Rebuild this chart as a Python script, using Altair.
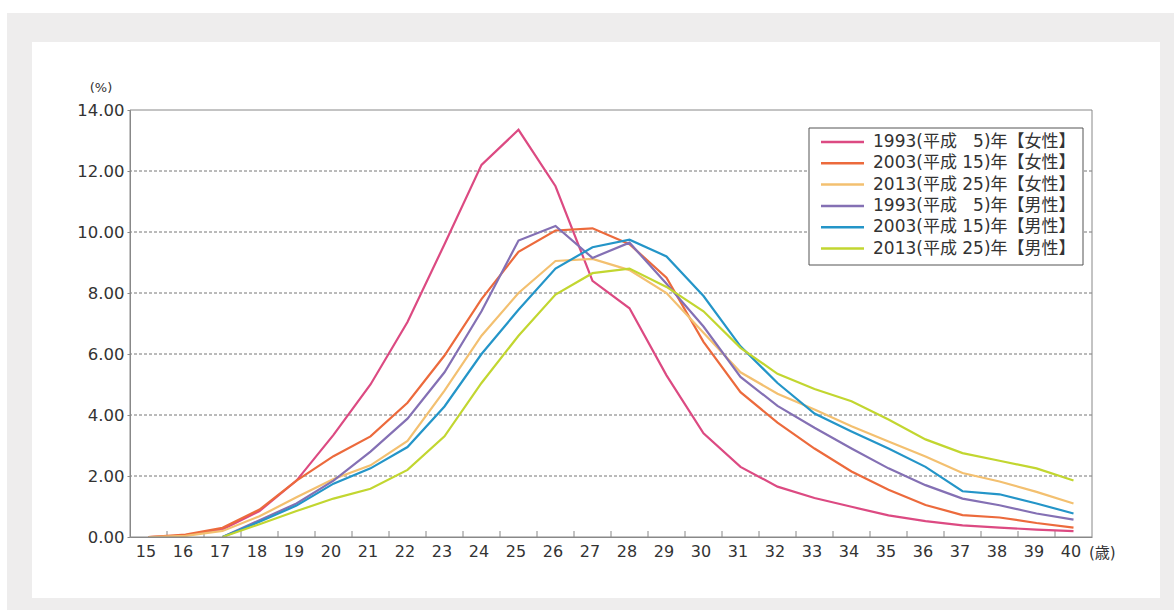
import altair as alt
import pandas as pd

# 初婚の年齢別割合（%）
ages = list(range(15, 41))
ages_male = list(range(17, 41))

f1993 = [0.0, 0.05, 0.25, 0.85, 1.85, 3.35, 5.0, 7.05, 9.6, 12.2, 13.35, 11.5, 8.4,
         7.5, 5.3, 3.4, 2.3, 1.65, 1.28, 0.99, 0.71, 0.52, 0.38, 0.31, 0.24, 0.19]
f2003 = [0.0, 0.08, 0.3, 0.9, 1.85, 2.65, 3.3, 4.4, 5.95, 7.8, 9.35, 10.05, 10.12,
         9.6, 8.5, 6.4, 4.75, 3.75, 2.9, 2.15, 1.55, 1.05, 0.72, 0.64, 0.46, 0.31]
f2013 = [0.0, 0.04, 0.2, 0.68, 1.3, 1.9, 2.35, 3.15, 4.8, 6.6, 8.0, 9.05, 9.12,
         8.75, 8.0, 6.7, 5.4, 4.7, 4.18, 3.63, 3.13, 2.64, 2.1, 1.82, 1.48, 1.1]
m1993 = [0.0, 0.55, 1.1, 1.85, 2.8, 3.88, 5.4, 7.4, 9.72, 10.2, 9.15, 9.65, 8.3,
         6.9, 5.25, 4.3, 3.58, 2.9, 2.25, 1.7, 1.26, 1.04, 0.77, 0.57]
m2003 = [0.0, 0.5, 1.03, 1.75, 2.25, 2.95, 4.28, 6.0, 7.45, 8.8, 9.5, 9.75, 9.2,
         7.9, 6.25, 5.05, 4.05, 3.46, 2.9, 2.3, 1.5, 1.4, 1.1, 0.77]
m2013 = [0.0, 0.42, 0.85, 1.26, 1.58, 2.2, 3.3, 5.05, 6.6, 7.95, 8.65, 8.8, 8.2,
         7.4, 6.2, 5.35, 4.85, 4.45, 3.85, 3.2, 2.75, 2.5, 2.25, 1.85]

series_names = [
    "1993(平成 \u20075)年【女性】",
    "2003(平成 15)年【女性】",
    "2013(平成 25)年【女性】",
    "1993(平成 \u20075)年【男性】",
    "2003(平成 15)年【男性】",
    "2013(平成 25)年【男性】",
]
series_colors = ["#dc4a82", "#ec6a3c", "#f3c070", "#8470b4", "#2495c8", "#c2d630"]
series_values = [f1993, f2003, f2013, m1993, m2003, m2013]
series_ages = [ages, ages, ages, ages_male, ages_male, ages_male]

y_ticks = [0, 2, 4, 6, 8, 10, 12, 14]
grid_values = [2, 4, 6, 8, 10, 12]
x_tick_marks = [a + 0.5 for a in ages[:-1]]

rows = []
for name, xs, vs in zip(series_names, series_ages, series_values):
    for a, v in zip(xs, vs):
        rows.append({"age": a, "pct": v, "series": name})
df = pd.DataFrame(rows)

W, H = 962, 427
FONT = "DejaVu Sans, Noto Sans CJK JP"
TEXT = "#333333"
AXIS_GRAY = "#888888"

x_scale = alt.Scale(domain=[14.5, 40.5], nice=False, zero=False)
y_scale = alt.Scale(domain=[0, 14], nice=False)
x_axis = alt.Axis(values=ages, format="d", grid=False, tickSize=0, title=None,
                  labelPadding=6, labelOffset=-3, labelFontSize=16,
                  labelColor=TEXT, labelFont=FONT, domainColor=AXIS_GRAY, zindex=1)
y_axis = alt.Axis(values=y_ticks, format=".2f", grid=False, tickSize=3, title=None,
                  tickColor=AXIS_GRAY, labelPadding=3, labelFontSize=16.5,
                  labelColor=TEXT, labelFont=FONT, domainColor=AXIS_GRAY, zindex=1)
color_scale = alt.Scale(domain=series_names, range=series_colors)

one = alt.Data(values=[{"k": 0}])

# panel backdrop
outer = alt.Chart(one).mark_rect(color="#eeeded").encode(
    x=alt.value(-123), x2=alt.value(1044), y=alt.value(-97), y2=alt.value(500))
inner = alt.Chart(one).mark_rect(color="#ffffff").encode(
    x=alt.value(-98), x2=alt.value(1030), y=alt.value(-68), y2=alt.value(488))

grid = alt.Chart(pd.DataFrame({"v": grid_values})).mark_rule(
    color="#777777", strokeDash=[3, 2], strokeWidth=1
).encode(y=alt.Y("v:Q", scale=y_scale, axis=y_axis))

ticks = alt.Chart(pd.DataFrame({"t": x_tick_marks})).mark_rule(
    color=AXIS_GRAY, strokeWidth=1
).encode(x=alt.X("t:Q", scale=x_scale, axis=x_axis), y=alt.value(H), y2=alt.value(H - 6))

lines = alt.Chart(df).mark_line(strokeWidth=2.2).encode(
    x=alt.X("age:Q", scale=x_scale, axis=x_axis),
    y=alt.Y("pct:Q", scale=y_scale, axis=y_axis),
    color=alt.Color("series:N", scale=color_scale, legend=None),
)

border = alt.Chart(one).mark_rect(fill=None, stroke=AXIS_GRAY, strokeWidth=1).encode(
    x=alt.value(0), x2=alt.value(W), y=alt.value(0), y2=alt.value(H))

# legend box with one row per series
legend_layers = [
    alt.Chart(one).mark_rect(fill="#ffffff", stroke="#555555", strokeWidth=1).encode(
        x=alt.value(679), x2=alt.value(953), y=alt.value(18), y2=alt.value(155))
]
for i, (name, col) in enumerate(zip(series_names, series_colors)):
    row_y = 32 + i * 21.3
    legend_layers.append(
        alt.Chart(one).mark_rule(color=col, strokeWidth=2.5).encode(
            x=alt.value(691), x2=alt.value(734), y=alt.value(row_y)))
    legend_layers.append(
        alt.Chart(one).mark_text(text=name, font=FONT, fontSize=17, color=TEXT,
                                 align="left", baseline="middle").encode(
            x=alt.value(743), y=alt.value(row_y)))

pct_label = alt.Chart(one).mark_text(
    text="(%)", font=FONT, fontSize=13, color=TEXT
).encode(x=alt.value(-29), y=alt.value(-22))

age_label = alt.Chart(one).mark_text(
    text="(歳)", font=FONT, fontSize=15, color=TEXT, align="left", baseline="middle"
).encode(x=alt.value(959), y=alt.value(H + 16))

chart = alt.layer(outer, inner, grid, ticks, lines, border, *legend_layers,
                  pct_label, age_label).properties(
    width=W, height=H,
    autosize=alt.AutoSizeParams(type="none"),
    padding={"left": 130, "top": 110, "right": 82, "bottom": 73},
).configure(background="#ffffff").configure_view(stroke=None)

chart.save("out.html", embed_options={"renderer": "svg", "actions": False})
